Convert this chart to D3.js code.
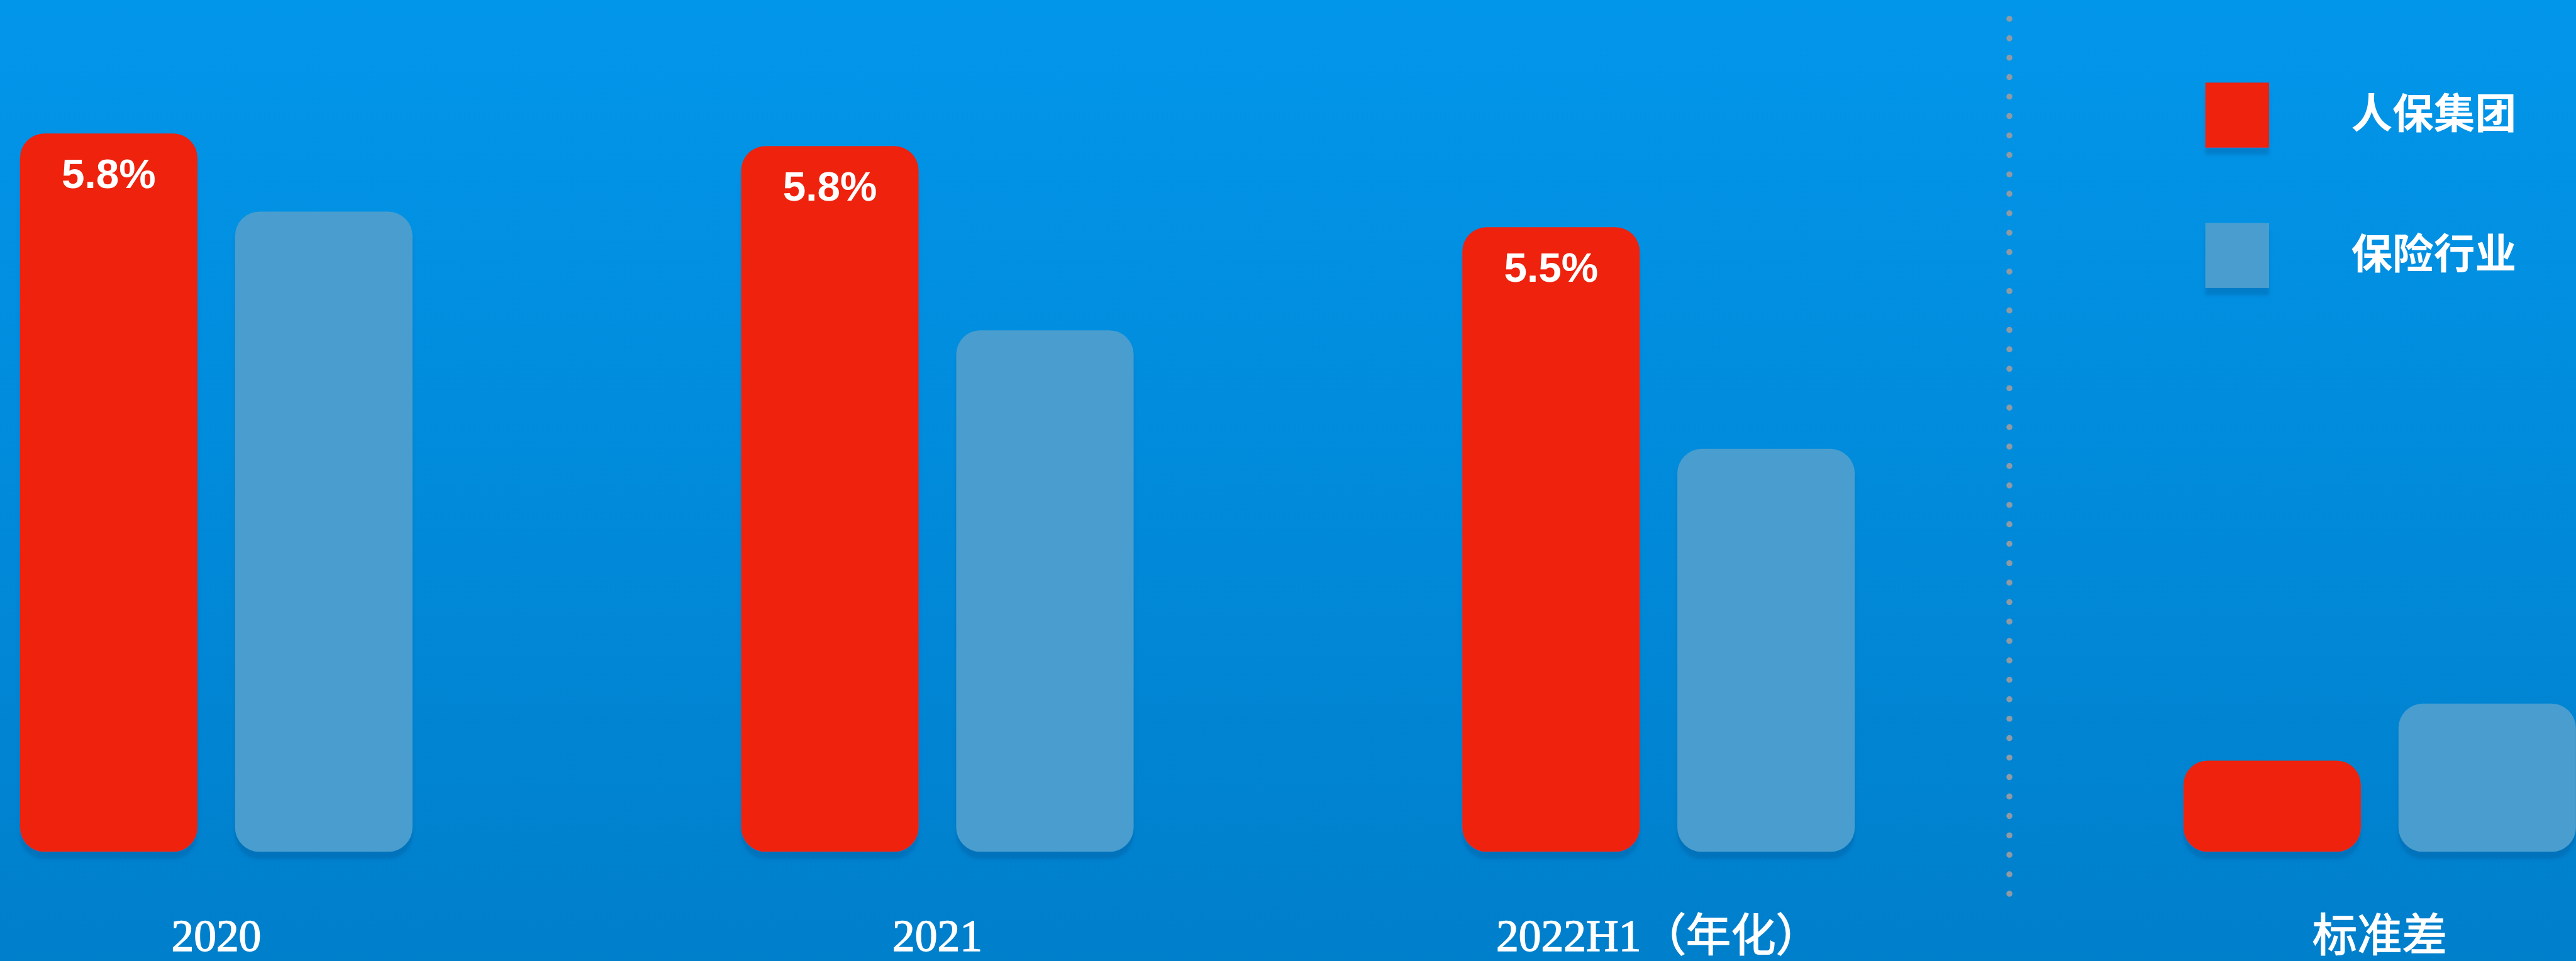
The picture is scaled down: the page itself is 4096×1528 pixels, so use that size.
<!DOCTYPE html>
<html>
<head>
<meta charset="utf-8">
<script src="https://cdn.jsdelivr.net/npm/d3@7"></script>
<style>
  html, body { margin: 0; padding: 0; overflow: hidden; }
  svg { display: block; }
</style>
</head>
<body>
<div class="chart"></div>
<script>
// chart data
var categories = ["2020", "2021", "2022H1（年化）"];
var seriesNames = ["人保集团", "保险行业"];
var groupValues = [5.80, 5.76, 5.50];     // 人保集团 yield, %
var industryValues = [5.55, 5.17, 4.79];  // 保险行业 yield, %
var stdLabel = "标准差";
var stdValues = [0.16, 0.26];             // 人保集团, 保险行业

// setup svg dimensions (drawn at reference size, then scaled)
var svgWidth = 4096;
var svgHeight = 1528;
var k = 0.966;

var baseline = 1402;
var colors = { "人保集团": "#ee220c", "保险行业": "#4a9ecf" };

var svg = d3.select(".chart")
  .append("svg")
  .attr("width", svgWidth)
  .attr("height", svgHeight);

var defs = svg.append("defs");

var bg = defs.append("linearGradient")
  .attr("id", "bg")
  .attr("x1", 0).attr("y1", 0).attr("x2", 0).attr("y2", 1);
bg.append("stop").attr("offset", "0%").attr("stop-color", "#0296ea");
bg.append("stop").attr("offset", "100%").attr("stop-color", "#007fcb");

var shadow = defs.append("filter")
  .attr("id", "shadow")
  .attr("x", "-10%").attr("y", "-10%")
  .attr("width", "120%").attr("height", "130%");
shadow.append("feDropShadow")
  .attr("dx", 0).attr("dy", 12)
  .attr("stdDeviation", 3)
  .attr("flood-color", "#00508f")
  .attr("flood-opacity", 0.3);

svg.append("rect")
  .attr("width", svgWidth)
  .attr("height", svgHeight)
  .attr("fill", "url(#bg)");

var chartGroup = svg.append("g")
  .attr("transform", `scale(${k})`);

// x scales: groups, then bars inside a group
var allCats = categories.concat([stdLabel]);
var x0 = d3.scaleBand()
  .domain(allCats)
  .range([33, 4240])
  .paddingInner(0.4558)
  .paddingOuter(0);

var x1 = d3.scaleBand()
  .domain(seriesNames)
  .range([0, x0.bandwidth()])
  .paddingInner(0.175);

// y scales: yields on a truncated axis, std dev on its own
var yScale = d3.scaleLinear()
  .domain([3.5, 6.0])
  .range([baseline, baseline - 2.5 * 514]);

var sdScale = d3.scaleLinear()
  .domain([0, 0.4])
  .range([baseline, baseline - 375]);

var barData = [];
categories.forEach(function(c, i) {
  barData.push({ cat: c, series: seriesNames[0], y: yScale(groupValues[i]), value: groupValues[i] });
  barData.push({ cat: c, series: seriesNames[1], y: yScale(industryValues[i]), value: industryValues[i] });
});
seriesNames.forEach(function(s, i) {
  barData.push({ cat: stdLabel, series: s, y: sdScale(stdValues[i]), value: stdValues[i] });
});

// bars
chartGroup.selectAll("rect.bar")
  .data(barData)
  .enter()
  .append("rect")
  .attr("class", "bar")
  .attr("x", d => x0(d.cat) + x1(d.series))
  .attr("y", d => d.y)
  .attr("width", x1.bandwidth())
  .attr("height", d => baseline - d.y)
  .attr("rx", 40)
  .attr("ry", 40)
  .attr("fill", d => colors[d.series])
  .attr("filter", "url(#shadow)");

// value labels on the red bars
var fmt = d3.format(".1f");
chartGroup.selectAll("text.value")
  .data(barData.filter(d => d.series === seriesNames[0] && d.cat !== stdLabel))
  .enter()
  .append("text")
  .attr("class", "value")
  .attr("x", d => x0(d.cat) + x1(d.series) + x1.bandwidth() / 2)
  .attr("y", d => d.y + 90)
  .attr("text-anchor", "middle")
  .attr("fill", "#ffffff")
  .style("font-family", "'Liberation Sans', Arial, sans-serif")
  .style("font-weight", "bold")
  .style("font-size", "68px")
  .text(d => fmt(d.value) + "%");

// category labels
chartGroup.selectAll("text.cat")
  .data(allCats)
  .enter()
  .append("text")
  .attr("class", "cat")
  .attr("x", d => x0(d) + x0.bandwidth() / 2)
  .attr("y", 1565)
  .attr("text-anchor", "middle")
  .attr("fill", "#ffffff")
  .attr("stroke", "#ffffff")
  .attr("stroke-width", 1.5)
  .style("font-family", "'Liberation Serif', 'Noto Sans CJK SC', serif")
  .style("font-size", "74px")
  .text(d => d);

// dotted separator between the years and the std dev group
var sepX = (x0(categories[2]) + x0.bandwidth() + x0(stdLabel)) / 2 - 16;
chartGroup.append("line")
  .attr("x1", sepX).attr("x2", sepX)
  .attr("y1", 31).attr("y2", 1480)
  .attr("stroke", "#8e9aa4")
  .attr("stroke-width", 10)
  .attr("stroke-linecap", "round")
  .attr("stroke-dasharray", "0 32");

// legend
var legend = chartGroup.append("g")
  .attr("transform", "translate(3630, 136)");

var legendItems = legend.selectAll("g")
  .data(seriesNames)
  .enter()
  .append("g")
  .attr("transform", (d, i) => `translate(0, ${i * 231})`);

legendItems.append("rect")
  .attr("width", 105)
  .attr("height", 107)
  .attr("fill", d => colors[d])
  .attr("filter", "url(#shadow)");

legendItems.append("text")
  .attr("x", 240)
  .attr("y", 46)
  .attr("dominant-baseline", "central")
  .attr("fill", "#ffffff")
  .style("font-family", "'Noto Sans CJK SC', sans-serif")
  .style("font-weight", "bold")
  .style("font-size", "68px")
  .text(d => d);
</script>
</body>
</html>
